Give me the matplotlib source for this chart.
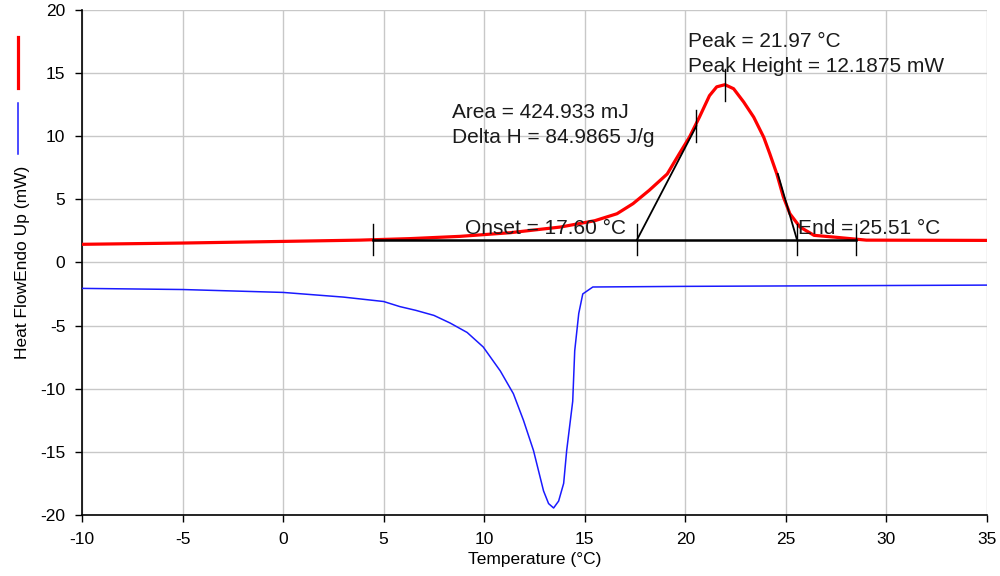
import matplotlib
matplotlib.use("Agg")
import matplotlib.pyplot as plt
from matplotlib.lines import Line2D

plt.rcParams['font.family'] = ['Liberation Sans', 'DejaVu Sans']
plt.rcParams['axes.unicode_minus'] = False

# heating curve (red)
heat_t = [-10, -5, 0, 3.8, 6.3, 8.8, 11.3, 13.8, 15.5, 16.6, 17.4, 18.2, 19.1, 19.7, 20.2,
          20.7, 21.2, 21.56, 21.97, 22.4, 22.9, 23.4, 23.9, 24.2, 24.55, 24.87, 25.2, 25.7,
          26.4, 27.4, 29.0, 35]
heat_y = [1.43, 1.53, 1.66, 1.76, 1.88, 2.06, 2.35, 2.8, 3.3, 3.85, 4.65, 5.7, 7.0, 8.6, 9.9,
          11.5, 13.2, 13.9, 14.07, 13.75, 12.7, 11.5, 9.9, 8.6, 7.0, 5.2, 3.85, 2.8,
          2.14, 2.0, 1.76, 1.74]

# cooling curve (blue)
cool_t = [-10, -5, 0, 3, 5, 5.8, 6.6, 7.5, 8.3, 9.15, 9.95, 10.8, 11.45, 11.95, 12.45, 12.95,
          13.2, 13.45, 13.7, 13.95, 14.1, 14.4, 14.5, 14.7, 14.9, 15.4, 20, 35]
cool_y = [-2.06, -2.15, -2.38, -2.75, -3.1, -3.5, -3.8, -4.2, -4.8, -5.55, -6.7, -8.6, -10.4,
          -12.5, -14.9, -18.1, -19.1, -19.45, -18.9, -17.5, -14.9, -11.0, -7.0, -4.05, -2.5,
          -1.95, -1.9, -1.8]

# analysis construction lines
base_t = [4.45, 28.5]
base_y = [1.8, 1.8]
left_tan_t = [17.6, 20.55]
left_tan_y = [1.8, 10.8]
right_tan_t = [24.6, 25.55]
right_tan_y = [7.0, 1.8]
tick_t = [4.45, 17.6, 25.55, 28.5]
tick_y = [1.8, 1.8, 1.8, 1.8]
peak_t = 21.97
peak_y = 14.0

labels = [
    (20.15, 17.5, "Peak = 21.97 °C"),
    (20.15, 15.5, "Peak Height = 12.1875 mW"),
    (8.4, 11.9, "Area = 424.933 mJ"),
    (8.4, 9.85, "Delta H = 84.9865 J/g"),
    (9.05, 2.7, "Onset = 17.60 °C"),
    (25.6, 2.7, "End = 25.51 °C"),
]

fig = plt.figure(figsize=(10, 5.76), dpi=100)
ax = fig.add_axes([0.082, 0.106, 0.905, 0.877])

ax.plot(heat_t, heat_y, color='#ff0000', lw=2.3, zorder=3)
ax.plot(cool_t, cool_y, color='#1a1aff', lw=1.1, zorder=3)

ax.plot(base_t, base_y, color='black', lw=1.8, zorder=4)
ax.plot(left_tan_t, left_tan_y, color='black', lw=1.3, zorder=4)
ax.plot(right_tan_t, right_tan_y, color='black', lw=1.3, zorder=4)
for t, y in zip(tick_t, tick_y):
    ax.plot([t, t], [y - 1.25, y + 1.25], color='black', lw=1.0, zorder=4)
ax.plot([left_tan_t[1]] * 2, [left_tan_y[1] - 1.3, left_tan_y[1] + 1.3], color='black', lw=1.0, zorder=4)
ax.plot([peak_t, peak_t], [peak_y - 1.2, peak_y + 1.3], color='black', lw=1.0, zorder=4)

for x, y, s in labels:
    ax.text(x, y, s, fontsize=15, color='#1a1a1a', ha='left', va='center', zorder=5)

ax.set_xlim(-10, 35)
ax.set_ylim(-20, 20)
ax.set_xticks(range(-10, 36, 5))
ax.set_yticks(range(-20, 21, 5))
ax.grid(True, color='#c8c8c8', lw=1.0)
ax.set_axisbelow(True)
for s in ['top', 'right']:
    ax.spines[s].set_visible(False)
ax.spines['left'].set_linewidth(1.2)
ax.spines['bottom'].set_linewidth(1.2)
ax.tick_params(direction='out', length=5, width=1.0, labelsize=12.5, colors='black')
ax.tick_params(axis='y', pad=7)
ax.tick_params(axis='x', pad=7)
ax.set_xlabel("Temperature (°C)", fontsize=12.5, labelpad=4)
ax.set_ylabel("Heat FlowEndo Up (mW)", fontsize=12.5, labelpad=7)

# series markers at left
fig.add_artist(Line2D([0.018, 0.018], [1 - 37 / 576, 1 - 88 / 576], color='#ff0000', lw=2.3))
fig.add_artist(Line2D([0.018, 0.018], [1 - 103 / 576, 1 - 154 / 576], color='#1a1aff', lw=1.1))

fig.savefig("out.png", dpi=100)
